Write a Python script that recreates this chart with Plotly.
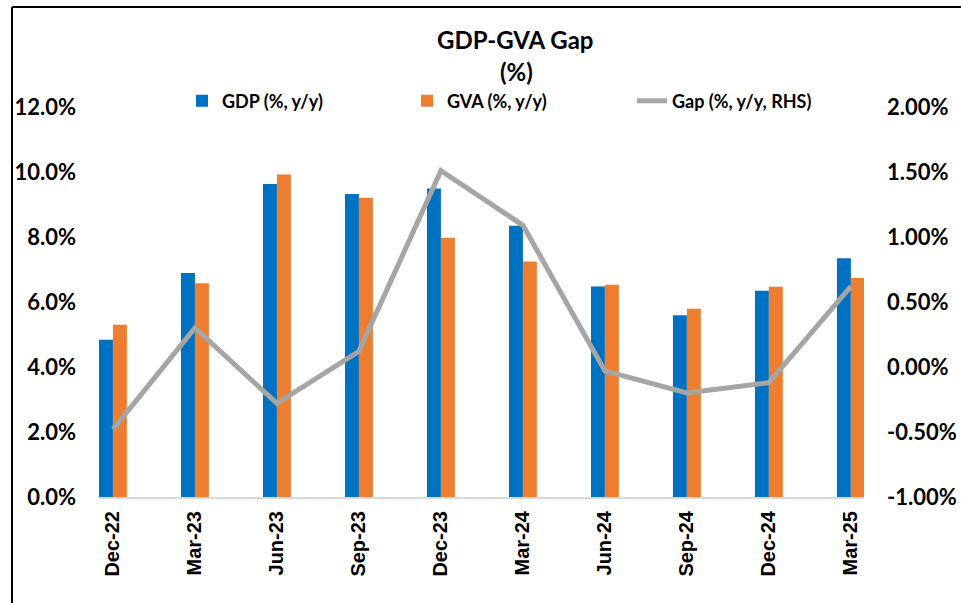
import plotly.graph_objects as go

# quarter labels and growth rates
quarters = ["Dec-22", "Mar-23", "Jun-23", "Sep-23", "Dec-23",
            "Mar-24", "Jun-24", "Sep-24", "Dec-24", "Mar-25"]
gdp = [4.84, 6.89, 9.63, 9.32, 9.49, 8.35, 6.48, 5.59, 6.35, 7.35]
gva = [5.30, 6.58, 9.92, 9.21, 7.98, 7.25, 6.53, 5.79, 6.47, 6.74]
gap = [-0.48, 0.30, -0.28, 0.12, 1.51, 1.09, -0.03, -0.20, -0.12, 0.62]

left_ticks = [0, 2, 4, 6, 8, 10, 12]
right_ticks = [-1.0, -0.5, 0.0, 0.5, 1.0, 1.5, 2.0]

BLUE = "#0070C0"
ORANGE = "#ED7D31"
GREY = "#A5A5A5"
BODY = "Lato, Open Sans, sans-serif"
WIDE = "Liberation Sans, Arial, sans-serif"

# plot area in pixels
L, R, T, B = 99, 97, 107, 106
PW, PH = 961 - L - R, 603 - T - B


def px_x(x):
    return (x - L) / PW


def px_y(y):
    return (603 - B - y) / PH


fig = go.Figure()

fig.add_trace(go.Bar(
    x=quarters, y=gdp, name="GDP (%, y/y)",
    marker=dict(color=BLUE, line=dict(width=0)),
))
fig.add_trace(go.Bar(
    x=quarters, y=gva, name="GVA (%, y/y)",
    marker=dict(color=ORANGE, line=dict(width=0)),
))
fig.add_trace(go.Scatter(
    x=quarters, y=gap, name="Gap (%, y/y, RHS)", yaxis="y2",
    mode="lines", line=dict(color=GREY, width=5),
))

frame = dict(color="black", width=2)

fig.update_layout(
    width=961, height=603,
    plot_bgcolor="white", paper_bgcolor="white",
    margin=dict(l=L, r=R, t=T, b=B, autoexpand=False),
    barmode="group",
    bargap=0.66,
    bargroupgap=0,
    showlegend=True,
    legend=dict(
        orientation="h",
        x=px_x(182), xanchor="left",
        y=px_y(101), yanchor="middle",
        entrywidth=180, entrywidthmode="pixels",
        font=dict(family=BODY, size=18, color="black", weight="bold"),
        bgcolor="rgba(0,0,0,0)",
    ),
    xaxis=dict(
        type="category",
        range=[-0.17, 9.16],
        showline=True, linecolor="#D9D9D9", linewidth=2,
        ticks="", tickangle=-90,
        ticklabelstandoff=4,
        automargin=False,
        tickfont=dict(family=WIDE, size=20, color="black", weight="bold"),
        showgrid=False, zeroline=False,
    ),
    xaxis2=dict(
        overlaying="x", anchor="y", side="bottom",
        range=[-0.17, 9.16], tickvals=[i - 0.17 for i in range(10)],
        ticks="outside", ticklen=6, tickcolor="#D9D9D9", tickwidth=2,
        showticklabels=False, showgrid=False, zeroline=False, showline=False,
        automargin=False,
    ),
    yaxis=dict(
        range=[0, 12], tickvals=left_ticks,
        ticktext=[f"{v:.1f}%" for v in left_ticks],
        showgrid=False, zeroline=False, showline=False,
        ticklabelstandoff=22, automargin=False,
        tickfont=dict(family=BODY, size=22, color="black", weight="bold"),
    ),
    yaxis2=dict(
        overlaying="y", side="right",
        range=[-1, 2], tickvals=right_ticks,
        ticktext=[f"{v:.2f}%" for v in right_ticks],
        showgrid=False, zeroline=False, showline=False,
        ticklabelstandoff=22, automargin=False,
        tickfont=dict(family=BODY, size=22, color="black", weight="bold"),
    ),
    shapes=[
        dict(type="line", xref="paper", yref="paper",
             x0=px_x(12), x1=px_x(12), y0=px_y(615), y1=px_y(7), line=frame),
        dict(type="line", xref="paper", yref="paper",
             x0=px_x(12), x1=px_x(975), y0=px_y(7), y1=px_y(7), line=frame),
    ],
)

# two-line title
fig.add_annotation(
    text="<b>GDP-GVA Gap</b>", x=px_x(515), y=px_y(40),
    xref="paper", yref="paper", xanchor="center", yanchor="middle",
    showarrow=False, font=dict(family=BODY, size=24, color="black"),
)
fig.add_annotation(
    text="<b>(%)</b>", x=px_x(516), y=px_y(71),
    xref="paper", yref="paper", xanchor="center", yanchor="middle",
    showarrow=False, font=dict(family=BODY, size=24, color="black"),
)

# drop the default page margin so the figure sits at the window's corner
fig.write_html(
    "out.html",
    config={"displayModeBar": False},
    post_script="document.body.style.margin='0px';document.body.style.overflow='hidden';",
)
